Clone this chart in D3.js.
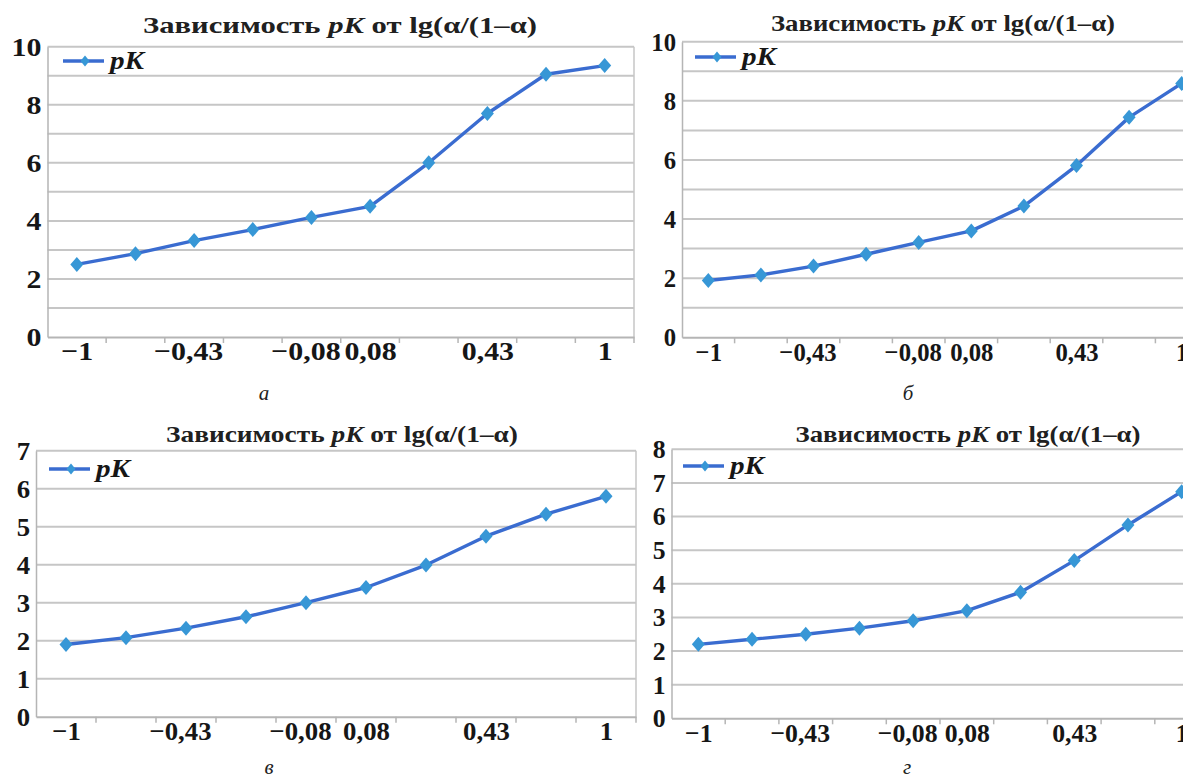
<!DOCTYPE html>
<html>
<head>
<meta charset="utf-8">
<script src="https://cdn.jsdelivr.net/npm/d3@7"></script>
<style>
  body { margin: 0; background: #fff; }
</style>
</head>
<body>
<div id="root"></div>
<script>
// categories on the x axis (lg(α/(1–α))), only some of them carry labels
const categories = ["−1", "", "−0,43", "", "−0,08", "0,08", "", "0,43", "", "1"];

// pK values
const pkA = [2.5, 2.87, 3.32, 3.7, 4.12, 4.5, 6.0, 7.7, 9.05, 9.35];
const pkB = [1.92, 2.11, 2.41, 2.81, 3.21, 3.6, 4.44, 5.81, 7.44, 8.59];
const pkV = [1.9, 2.08, 2.33, 2.63, 3.0, 3.4, 3.99, 4.75, 5.33, 5.8];
const pkG = [2.2, 2.35, 2.5, 2.68, 2.9, 3.2, 3.75, 4.69, 5.75, 6.74];

const yLabelsA = [0, 2, 4, 6, 8, 10];
const yLabelsB = [0, 2, 4, 6, 8, 10];
const yLabelsV = [0, 1, 2, 3, 4, 5, 6, 7];
const yLabelsG = [0, 1, 2, 3, 4, 5, 6, 7, 8];

const captions = ["а", "б", "в", "г"];
const seriesName = "pK";

const W = 1183, H = 778;
const serif = "'Liberation Serif', 'Times New Roman', serif";
const lineColor = "#3a6cd0";
const markerColor = "#3797d6";
const gridColor = "#c6c6c6";
const textColor = "#161616";

// each scanned panel is stretched a bit differently, hence "stretch"
const panels = [
  { vals: pkA, yLabels: yLabelsA, left: 47.5, right: 634, top: 46.7, bottom: 337, stretch: 1.15,
    title: { x: 340, y: 33, w: 394 }, legend: { x: 63, y: 61 }, caption: { x: 264, y: 400 } },
  { vals: pkB, yLabels: yLabelsB, left: 682, right: 1208, top: 41.7, bottom: 337.3, stretch: 0.95,
    title: { x: 943, y: 31, w: 344 }, legend: { x: 695, y: 57 }, caption: { x: 908, y: 400 } },
  { vals: pkV, yLabels: yLabelsV, left: 36, right: 636, top: 450.7, bottom: 716.7, stretch: 1.03,
    title: { x: 342, y: 442, w: 352 }, legend: { x: 49, y: 469 }, caption: { x: 269, y: 774 } },
  { vals: pkG, yLabels: yLabelsG, left: 671.5, right: 1208.5, top: 449.3, bottom: 718.3, stretch: 0.99,
    title: { x: 968, y: 442, w: 345 }, legend: { x: 683, y: 466 }, caption: { x: 907, y: 774 } }
];

const svg = d3.select("#root").append("svg")
  .attr("width", W)
  .attr("height", H)
  .style("display", "block");

svg.append("rect").attr("width", W).attr("height", H).attr("fill", "#fff");

function diamond(cx, cy, rx, ry) {
  return "M" + cx + "," + (cy - ry) + "L" + (cx + rx) + "," + cy +
    "L" + cx + "," + (cy + ry) + "L" + (cx - rx) + "," + cy + "Z";
}

function widen(sel, k) {
  sel.each(function() {
    const w = this.getComputedTextLength();
    if (w > 0) {
      d3.select(this)
        .attr("textLength", w * k)
        .attr("lengthAdjust", "spacingAndGlyphs");
    }
  });
}

function drawPanel(p, idx) {
  const g = svg.append("g");
  const yMax = d3.max(p.yLabels);

  const x = d3.scalePoint()
    .domain(d3.range(categories.length))
    .range([p.left, p.right])
    .padding(0.5);
  const xBand = d3.scaleBand()
    .domain(d3.range(categories.length))
    .range([p.left, p.right]);
  const y = d3.scaleLinear()
    .domain([0, yMax])
    .range([p.bottom, p.top]);

  // grid lines, one per unit
  g.append("g")
    .selectAll("line")
    .data(d3.range(1, yMax + 1))
    .enter().append("line")
      .attr("x1", p.left).attr("x2", p.right)
      .attr("y1", d => y(d)).attr("y2", d => y(d))
      .attr("stroke", gridColor)
      .attr("stroke-width", 2);

  // right border of plot area
  g.append("line")
    .attr("x1", p.right).attr("x2", p.right)
    .attr("y1", p.top).attr("y2", p.bottom)
    .attr("stroke", gridColor).attr("stroke-width", 1.5);

  // y axis
  const yAxis = g.append("g")
    .attr("transform", "translate(" + p.left + ",0)")
    .call(d3.axisLeft(y).tickValues(p.yLabels).tickSize(0).tickPadding(6).tickFormat(d3.format("d")));
  yAxis.select(".domain").attr("stroke", "#b5b5b5").attr("stroke-width", 1.5);
  yAxis.selectAll("text")
    .style("font-family", serif)
    .style("font-weight", "bold")
    .style("font-size", "26px")
    .attr("fill", textColor)
    .call(widen, p.stretch);

  // x axis
  const xAxis = g.append("g")
    .attr("transform", "translate(0," + p.bottom + ")")
    .call(d3.axisBottom(x).tickSize(0).tickPadding(5).tickFormat(i => categories[i]));
  xAxis.select(".domain").attr("stroke", "#b5b5b5").attr("stroke-width", 2);
  xAxis.selectAll("text")
    .style("font-family", serif)
    .style("font-weight", "bold")
    .style("font-size", "26px")
    .attr("fill", textColor)
    // negative labels sit a little left of their point in the original
    .attr("dx", i => categories[i].startsWith("−") && categories[i].length > 2 ? -6 : 0)
    .call(widen, p.stretch);

  // tick marks between categories
  g.append("g")
    .selectAll("line")
    .data(d3.range(1, categories.length + 1))
    .enter().append("line")
      .attr("x1", d => d < categories.length ? xBand(d) : p.right)
      .attr("x2", d => d < categories.length ? xBand(d) : p.right)
      .attr("y1", p.bottom).attr("y2", p.bottom + 6)
      .attr("stroke", "#b5b5b5").attr("stroke-width", 1.5);

  // the series
  const line = d3.line()
    .x((d, i) => x(i))
    .y(d => y(d));

  g.append("path")
    .datum(p.vals)
    .attr("d", line)
    .attr("fill", "none")
    .attr("stroke", lineColor)
    .attr("stroke-width", 3.4)
    .attr("stroke-linejoin", "round");

  g.append("g")
    .selectAll("path")
    .data(p.vals)
    .enter().append("path")
      .attr("d", (d, i) => diamond(x(i), y(d), 6.5, 7.5))
      .attr("fill", markerColor);

  // title
  const t = g.append("text")
    .attr("x", p.title.x)
    .attr("y", p.title.y)
    .attr("text-anchor", "middle")
    .style("font-family", serif)
    .style("font-size", "23px")
    .style("font-weight", "bold")
    .attr("fill", "#202020")
    .attr("textLength", p.title.w)
    .attr("lengthAdjust", "spacingAndGlyphs");
  t.append("tspan").text("Зависимость ");
  t.append("tspan").style("font-style", "italic").text("pK");
  t.append("tspan").text(" от lg(α/(1–α)");

  // legend
  g.append("line")
    .attr("x1", p.legend.x).attr("x2", p.legend.x + 41)
    .attr("y1", p.legend.y).attr("y2", p.legend.y)
    .attr("stroke", lineColor).attr("stroke-width", 3.4);
  g.append("path")
    .attr("d", diamond(p.legend.x + 22, p.legend.y, 4.5, 5.5))
    .attr("fill", markerColor);
  g.append("text")
    .attr("x", p.legend.x + 47)
    .attr("y", p.legend.y + 8)
    .style("font-family", serif)
    .style("font-size", "25px")
    .style("font-weight", "bold")
    .style("font-style", "italic")
    .attr("fill", textColor)
    .attr("textLength", 34)
    .attr("lengthAdjust", "spacingAndGlyphs")
    .text(seriesName);

  // caption under the panel
  svg.append("text")
    .attr("x", p.caption.x)
    .attr("y", p.caption.y)
    .attr("text-anchor", "middle")
    .style("font-family", serif)
    .style("font-size", "21px")
    .style("font-style", "italic")
    .attr("fill", "#222")
    .text(captions[idx]);
}

panels.forEach(drawPanel);
</script>
</body>
</html>
